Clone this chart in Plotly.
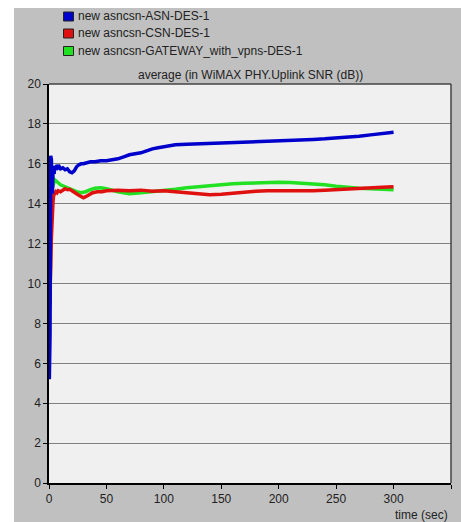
import plotly.graph_objects as go

W, H = 461, 522
ML, MR, MT, MB = 49, 10, 84, 39

# ---- series data: average WiMAX PHY Uplink SNR (dB) vs time (sec) ----
asn_t = [0.3, 0.6, 0.9, 1.2, 1.5, 1.8, 2.1, 2.4, 2.7, 3.0, 3.5, 4, 4.5, 5, 6, 7, 8, 9,
         10, 12, 14, 16, 18, 20, 22, 24, 26, 28, 30, 33, 36, 40, 45, 50, 55, 60, 65,
         70, 75, 80, 85, 90, 95, 100, 110, 120, 130, 140, 150, 160, 170, 180, 190,
         200, 210, 220, 230, 240, 250, 260, 270, 280, 290, 295, 300]
asn_v = [5.2, 6.3, 7.4, 12.5, 16.4, 14.1, 16.2, 14.8, 15.9, 14.5, 15.6, 15.9, 15.5,
         15.9, 15.7, 15.95, 15.8, 15.85, 15.75, 15.8, 15.7, 15.75, 15.6, 15.55, 15.65,
         15.85, 15.95, 16.0, 16.0, 16.05, 16.1, 16.1, 16.15, 16.15, 16.2, 16.25, 16.35,
         16.45, 16.5, 16.55, 16.65, 16.75, 16.8, 16.85, 16.95, 16.98, 17.0, 17.0,
         17.02, 17.05, 17.08, 17.1, 17.12, 17.15, 17.18, 17.2, 17.22, 17.25, 17.28,
         17.32, 17.38, 17.45, 17.52, 17.55, 17.58]

csn_t = [0.5, 1, 1.5, 2, 2.5, 3, 3.5, 4, 5, 6, 7, 8, 10, 12, 14, 16, 18, 20, 22, 24,
         26, 28, 30, 32, 35, 38, 42, 46, 50, 60, 70, 80, 90, 100, 110, 120, 130, 140,
         150, 160, 170, 180, 190, 200, 210, 220, 230, 240, 250, 260, 270, 280, 290, 300]
csn_v = [8.9, 9.5, 10.8, 12.2, 13.1, 13.8, 14.1, 14.4, 14.55, 14.6, 14.55, 14.65,
         14.6, 14.7, 14.75, 14.7, 14.72, 14.65, 14.55, 14.5, 14.42, 14.35, 14.3, 14.35,
         14.45, 14.55, 14.6, 14.6, 14.65, 14.68, 14.65, 14.68, 14.62, 14.65, 14.6,
         14.55, 14.5, 14.45, 14.47, 14.52, 14.6, 14.62, 14.65, 14.65, 14.63, 14.62,
         14.65, 14.68, 14.7, 14.72, 14.75, 14.8, 14.82, 14.85]

gw_t = [0.5, 1, 1.5, 2, 3, 4, 5, 6, 7, 8, 10, 12, 14, 16, 18, 20, 24, 28, 32, 36, 40,
        45, 50, 60, 70, 80, 90, 100, 110, 120, 130, 140, 150, 160, 170, 180, 190,
        200, 210, 220, 230, 240, 250, 260, 270, 280, 290, 300]
gw_v = [8.8, 9.0, 12.5, 14.2, 14.8, 15.1, 15.2, 15.15, 15.1, 15.0, 14.95, 14.9,
        14.85, 14.8, 14.75, 14.7, 14.6, 14.55, 14.6, 14.7, 14.78, 14.8, 14.75, 14.6,
        14.5, 14.55, 14.6, 14.65, 14.72, 14.8, 14.86, 14.9, 14.95, 15.0, 15.02,
        15.05, 15.07, 15.07, 15.06, 15.03, 15.0, 14.95, 14.88, 14.82, 14.78, 14.75,
        14.72, 14.7]

series_names = ["new asncsn-ASN-DES-1", "new asncsn-CSN-DES-1",
                "new asncsn-GATEWAY_with_vpns-DES-1"]
series_colors = ["#0000cc", "#e01010", "#22e022"]

x_ticks = [0, 50, 100, 150, 200, 250, 300, 350]
y_ticks = [0, 2, 4, 6, 8, 10, 12, 14, 16, 18, 20]

FONT = "Arial, Liberation Sans, sans-serif"

fig = go.Figure()
# draw order: gateway, csn, asn on top
for t, v, c in [(gw_t, gw_v, series_colors[2]),
                (csn_t, csn_v, series_colors[1]),
                (asn_t, asn_v, series_colors[0])]:
    fig.add_trace(go.Scatter(x=t, y=v, mode="lines",
                             line=dict(color=c, width=3.5), showlegend=False))

pw = W - ML - MR
ph = H - MT - MB


def px(xp):
    return (xp - ML) / pw


def py(yp):
    return (H - MB - yp) / ph


shapes = [
    # white margins left and top of the grey panel
    dict(type="rect", xref="paper", yref="paper", x0=px(0), x1=px(14), y0=py(H), y1=py(0),
         fillcolor="white", line=dict(width=0), layer="below"),
    dict(type="rect", xref="paper", yref="paper", x0=px(0), x1=px(W), y0=py(8), y1=py(0),
         fillcolor="white", line=dict(width=0), layer="below"),
    # plot frame (top and right in dark grey)
    dict(type="line", xref="paper", yref="paper", x0=0, x1=1, y0=1, y1=1,
         line=dict(color="#444444", width=1.5)),
    dict(type="line", xref="paper", yref="paper", x0=1, x1=1, y0=0, y1=1,
         line=dict(color="#444444", width=1.5)),
]

annotations = [
    dict(text="average (in WiMAX PHY.Uplink SNR (dB))", xref="paper", yref="paper",
         x=0.5, y=py(75), xanchor="center", yanchor="middle", showarrow=False,
         font=dict(family=FONT, size=12, color="#222222")),
    dict(text="time (sec)", xref="paper", yref="paper", x=px(450), y=py(515),
         xanchor="right", yanchor="middle", showarrow=False,
         font=dict(family=FONT, size=12, color="#222222")),
]

leg_rows = [16.5, 33.5, 51]
for name, col, yc in zip(series_names, series_colors, leg_rows):
    shapes.append(dict(type="rect", xref="paper", yref="paper",
                       x0=px(63.5), x1=px(73.5), y0=py(yc + 4.5), y1=py(yc - 4.5),
                       fillcolor=col, line=dict(color="#222222", width=1)))
    annotations.append(dict(text=name, xref="paper", yref="paper", x=px(76), y=py(yc),
                            xanchor="left", yanchor="middle", showarrow=False,
                            font=dict(family=FONT, size=12, color="#222222")))

fig.update_layout(
    width=W, height=H,
    margin=dict(l=ML, r=MR, t=MT, b=MB, pad=0),
    paper_bgcolor="#c0c0c0",
    plot_bgcolor="#f0f0f0",
    shapes=shapes,
    annotations=annotations,
    xaxis=dict(range=[0, 350], tickvals=x_ticks, ticks="outside", ticklen=4,
               tickcolor="#000000", showgrid=False, zeroline=False, showline=True,
               linecolor="#000000", linewidth=1.5,
               tickfont=dict(family=FONT, size=12, color="#222222")),
    yaxis=dict(range=[0, 20], tickvals=y_ticks, ticks="outside", ticklen=4,
               tickcolor="#000000", showgrid=True, gridcolor="#808080", gridwidth=1,
               zeroline=False, showline=True, linecolor="#000000", linewidth=1.5,
               tickfont=dict(family=FONT, size=12, color="#222222")),
)

fig.write_html("out.html")
